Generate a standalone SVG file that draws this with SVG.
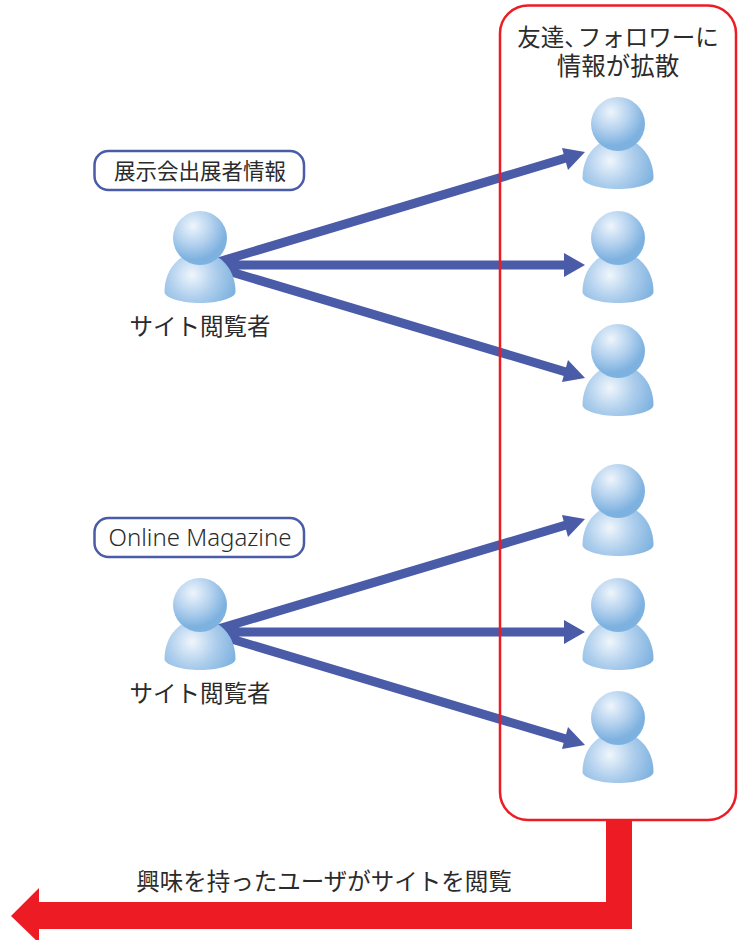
<svg xmlns="http://www.w3.org/2000/svg" width="740" height="940" viewBox="0 0 740 940">
<style>
text{font-family:"Noto Sans CJK JP","Noto Sans",sans-serif;fill:#2b2b2b;font-size:23.500px;text-anchor:middle}
.c{fill:none;stroke:#4a5ba8;stroke-width:9}
.h{fill:#4a5ba8}
.pill{fill:#fff;stroke:#4a5ba8;stroke-width:2.500}
.frame{fill:none;stroke:#ed1c24;stroke-width:2.500}
</style>
<defs>
<radialGradient id="hg" gradientUnits="userSpaceOnUse" cx="-7" cy="-12" r="34">
<stop offset="0" stop-color="#eef5fc"/><stop offset="0.55" stop-color="#b3d1ee"/><stop offset="1" stop-color="#7db1df"/>
</radialGradient>
<radialGradient id="bg" gradientUnits="userSpaceOnUse" cx="-8" cy="37" r="46">
<stop offset="0" stop-color="#f0f6fc"/><stop offset="0.5" stop-color="#afcfed"/><stop offset="1" stop-color="#7db1df"/>
</radialGradient>
<g id="person">
<path d="M-35.500 54C-35.500 30-19 14 0 14S35.500 30 35.500 54C35.500 60 18 65 0 65S-35.500 60-35.500 54Z" fill="url(#bg)"/>
<circle r="27" fill="url(#hg)"/>
</g>
</defs>
<g id="connectors">
<path class="c" d="M218 262L566 158M218 265H566M218 268L566 372M218 629L566 525M218 632H566M218 635L566 739"/>
<path class="h" d="M585 152L562 148L568 170ZM585 265L564 253V277ZM585 378L568 360L562 382ZM585 519L562 515L568 537ZM585 632L564 620V644ZM585 745L568 727L562 749Z"/>
<path id="red-arrow" fill="#ed1c24" d="M606 821H632V929H39V943L11 916L39 888V902H606Z"/>
</g>
<rect id="followers" class="frame" x="500" y="5.500" width="236" height="814.500" rx="28"/>
<g id="viewer-1"><use href="#person" x="200" y="238"/><text x="200" y="335">サイト閲覧者</text></g>
<g id="viewer-2"><use href="#person" x="200" y="605"/><text x="200" y="702">サイト閲覧者</text></g>
<g id="label-1"><rect class="pill" x="94.500" y="151" width="209.500" height="39" rx="14"/><text x="200" y="179" style="font-size:21.500px">展示会出展者情報</text></g>
<g id="label-2"><rect class="pill" x="94.500" y="518" width="209.500" height="39" rx="14"/><text x="200" y="546" style="font-size:24px;font-family:'Noto Sans',sans-serif;font-weight:300">Online Magazine</text></g>
<g id="follower-1"><use href="#person" x="618" y="124"/></g>
<g id="follower-2"><use href="#person" x="618" y="238"/></g>
<g id="follower-3"><use href="#person" x="618" y="351"/></g>
<g id="follower-4"><use href="#person" x="618" y="491"/></g>
<g id="follower-5"><use href="#person" x="618" y="605"/></g>
<g id="follower-6"><use href="#person" x="618" y="718"/></g>
<text id="title" x="618" y="46"><tspan>友達</tspan><tspan letter-spacing="-10">、</tspan><tspan>フォロワーに</tspan><tspan x="618" y="75" style="font-size:24.500px">情報が拡散</tspan></text>
<text id="bottom-label" x="324" y="890">興味を持ったユーザがサイトを閲覧</text>
</svg>
